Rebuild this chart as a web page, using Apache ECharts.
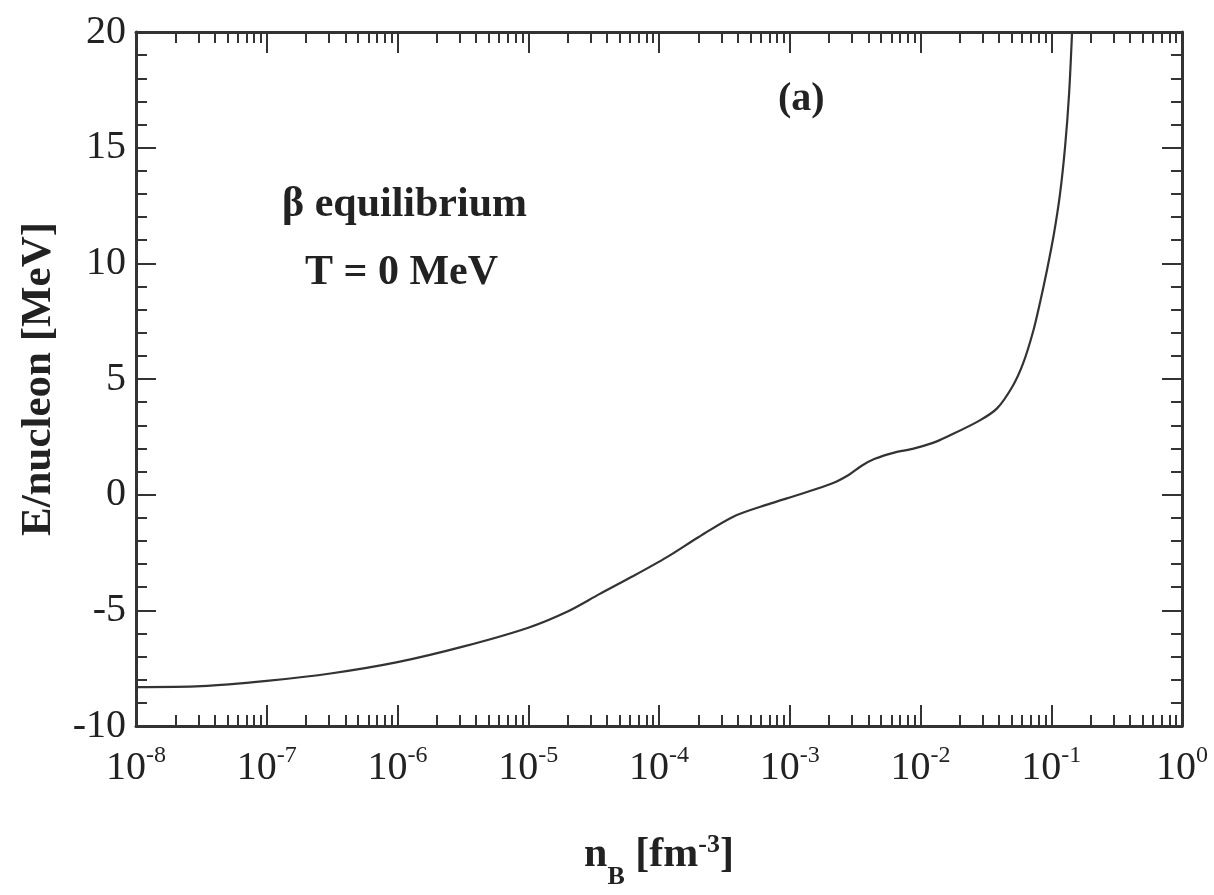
<!DOCTYPE html>
<html>
<head>
<meta charset="utf-8">
<script src="https://cdn.jsdelivr.net/npm/echarts@6/dist/echarts.min.js"></script>
<style>
html,body{margin:0;padding:0;background:#fff;}
#chart{width:1214px;height:895px;}
</style>
</head>
<body>
<div id="chart"></div>
<script>
// Baryon density n_B [fm^-3]
var nB = [1e-8, 3.16e-8, 1e-7, 3.16e-7, 1e-6, 3.16e-6, 1e-5, 2.0e-5, 3.5e-5, 6.3e-5,
  1.15e-4, 2.0e-4, 3.7e-4, 6.8e-4, 1.2e-3, 2.1e-3, 2.82e-3, 3.55e-3, 4.47e-3, 6.3e-3,
  8.7e-3, 1.26e-2, 1.58e-2, 2.8e-2, 3.85e-2, 5.09e-2, 6.08e-2, 7.24e-2, 8.2e-2, 9.27e-2,
  0.105, 0.1167, 0.1274, 0.1368, 0.1443];
// Energy per nucleon [MeV]
var energy = [-8.32, -8.28, -8.05, -7.72, -7.24, -6.57, -5.75, -5.05, -4.30, -3.53,
  -2.70, -1.84, -0.95, -0.42, 0.02, 0.48, 0.85, 1.25, 1.55, 1.82,
  1.98, 2.25, 2.49, 3.19, 3.73, 4.71, 5.66, 7.02, 8.3, 9.7,
  11.3, 13.0, 15.0, 17.3, 20.0];
// Major x tick values (decades) and y ticks
var xMajorTicks = [1e-8, 1e-7, 1e-6, 1e-5, 1e-4, 1e-3, 1e-2, 1e-1, 1];
var yTicks = [-10, -5, 0, 5, 10, 15, 20];
var annotations = ['(a)', 'β equilibrium', 'T = 0 MeV'];

var xMinorTicks = [];
for (var d = 0; d < xMajorTicks.length - 1; d++) {
  for (var k = 2; k <= 9; k++) xMinorTicks.push(+(xMajorTicks[d] * k).toPrecision(3));
}

var FONT = 'Liberation Serif';
var AX = '#333';
var chart = echarts.init(document.getElementById('chart'));

function xAxisDef(pos, major, showLabel) {
  return {
    type: 'log', logBase: 10, min: 1e-8, max: 1, position: pos, gridIndex: 0,
    axisLine: { show: major, onZero: false, lineStyle: { color: AX, width: 3 } },
    axisTick: { show: true, inside: true, length: major ? 21 : 11,
      customValues: major ? xMajorTicks : xMinorTicks,
      lineStyle: { color: AX, width: 2 } },
    axisLabel: { show: showLabel, customValues: xMajorTicks, margin: 18,
      formatter: function (v) { return '{b|10}{s|' + Math.round(Math.log10(v)) + '}'; },
      rich: {
        b: { fontFamily: FONT, fontSize: 40, color: '#222', verticalAlign: 'bottom', lineHeight: 44 },
        s: { fontFamily: FONT, fontSize: 24, color: '#222', verticalAlign: 'top', lineHeight: 24 }
      } },
    splitLine: { show: false },
    minorTick: { show: false }
  };
}

var xMain = xAxisDef('bottom', true, true);
xMain.name = '{b|n}{sub|B}{b| [fm}{sup|-3}{b|]}';
xMain.nameLocation = 'middle';
xMain.nameGap = 106;
xMain.nameTextStyle = {
  rich: {
    b: { fontFamily: FONT, fontWeight: 'bold', fontSize: 42, color: '#222', verticalAlign: 'middle', lineHeight: 46 },
    sub: { fontFamily: FONT, fontWeight: 'bold', fontSize: 26, color: '#222', verticalAlign: 'bottom', lineHeight: 26, padding: [0, 0, -12, 0] },
    sup: { fontFamily: FONT, fontWeight: 'bold', fontSize: 26, color: '#222', verticalAlign: 'top', lineHeight: 26 }
  }
};

function yAxisDef(pos, showLabel) {
  return {
    type: 'value', min: -10, max: 20, interval: 5, position: pos,
    axisLine: { show: true, onZero: false, lineStyle: { color: AX, width: 3 } },
    axisTick: { show: true, inside: true, length: 20, lineStyle: { color: AX, width: 2 } },
    minorTick: { show: true, splitNumber: 5, length: 11, lineStyle: { color: AX, width: 2 } },
    axisLabel: { show: showLabel, margin: 10, fontFamily: FONT, fontSize: 40, color: '#222',
      customValues: yTicks },
    splitLine: { show: false }
  };
}
var yMain = yAxisDef('left', true);
yMain.name = 'E/nucleon [MeV]';
yMain.nameLocation = 'middle';
yMain.nameGap = 76;
yMain.nameTextStyle = { fontFamily: FONT, fontWeight: 'bold', fontSize: 43, color: '#222' };

var option = {
  backgroundColor: '#fff',
  animation: false,
  grid: { left: 136, top: 32, width: 1046, height: 728, containLabel: false },
  xAxis: [xMain, xAxisDef('bottom', false, false), xAxisDef('top', true, false), xAxisDef('top', false, false)],
  yAxis: [yMain, yAxisDef('right', false)],
  series: [{
    type: 'line', xAxisIndex: 0, yAxisIndex: 0,
    data: nB.map(function (n, i) { return [n, energy[i]]; }),
    smooth: 0.3, symbol: 'none', clip: true,
    lineStyle: { color: '#333', width: 2.2 }
  }],
  graphic: [
    { type: 'text', left: 778, top: 80, style: { text: annotations[0], font: 'bold 40px "Liberation Serif"', fill: '#222' } },
    { type: 'text', left: 282, top: 184, style: { text: annotations[1], font: 'bold 42px "Liberation Serif"', fill: '#222' } },
    { type: 'text', left: 305, top: 252, style: { text: annotations[2], font: 'bold 42px "Liberation Serif"', fill: '#222' } }
  ]
};
chart.setOption(option);
</script>
</body>
</html>
